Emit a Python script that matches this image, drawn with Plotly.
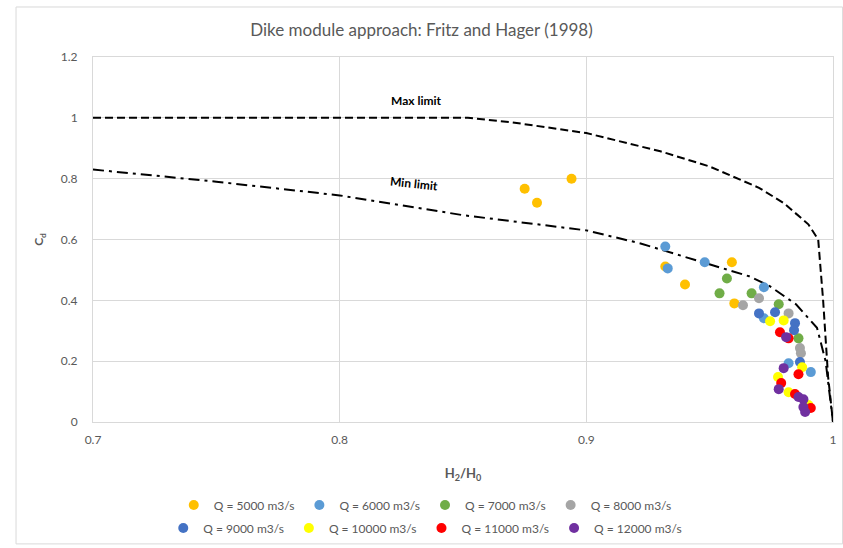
import plotly.graph_objects as go

# ---------------- data ----------------
series_names = ["Q = 5000 m3/s", "Q = 6000 m3/s", "Q = 7000 m3/s", "Q = 8000 m3/s",
                "Q = 9000 m3/s", "Q = 10000 m3/s", "Q = 11000 m3/s", "Q = 12000 m3/s"]
series_colors = ["#FFC000", "#5B9BD5", "#70AD47", "#A5A5A5",
                 "#4472C4", "#FFFF00", "#FF0000", "#7030A0"]

q5000_x = [0.875, 0.880, 0.894, 0.932, 0.940, 0.959, 0.960]
q5000_y = [0.767, 0.721, 0.800, 0.511, 0.452, 0.525, 0.390]
q6000_x = [0.932, 0.933, 0.948, 0.972, 0.972, 0.982, 0.991]
q6000_y = [0.577, 0.505, 0.525, 0.443, 0.341, 0.193, 0.164]
q7000_x = [0.957, 0.954, 0.967, 0.978, 0.986]
q7000_y = [0.472, 0.423, 0.423, 0.387, 0.275]
q8000_x = [0.9635, 0.970, 0.982, 0.9866, 0.987]
q8000_y = [0.384, 0.407, 0.357, 0.243, 0.226]
q9000_x = [0.970, 0.9765, 0.9846, 0.9842, 0.9866]
q9000_y = [0.357, 0.361, 0.325, 0.302, 0.197]
q10000_x = [0.9745, 0.980, 0.9875, 0.9777, 0.982, 0.990]
q10000_y = [0.331, 0.334, 0.180, 0.148, 0.098, 0.056]
q11000_x = [0.9785, 0.982, 0.986, 0.979, 0.9846, 0.991]
q11000_y = [0.295, 0.275, 0.157, 0.128, 0.092, 0.046]
q12000_x = [0.981, 0.980, 0.978, 0.986, 0.988, 0.988, 0.9887]
q12000_y = [0.279, 0.177, 0.108, 0.082, 0.075, 0.049, 0.033]

series_x = [q5000_x, q6000_x, q7000_x, q8000_x, q9000_x, q10000_x, q11000_x, q12000_x]
series_y = [q5000_y, q6000_y, q7000_y, q8000_y, q9000_y, q10000_y, q11000_y, q12000_y]

max_limit_x = [0.70, 0.852, 0.87, 0.90, 0.93, 0.95, 0.97, 0.98, 0.99, 0.994, 0.996, 0.998, 1.0]
max_limit_y = [1.00, 1.00, 0.985, 0.95, 0.89, 0.84, 0.77, 0.72, 0.65, 0.60, 0.40, 0.15, 0.0]
min_limit_x = [0.70, 0.75, 0.80, 0.85, 0.90, 0.922, 0.946, 0.966, 0.9745, 0.985, 0.9935, 0.997, 1.0]
min_limit_y = [0.83, 0.79, 0.745, 0.68, 0.63, 0.587, 0.528, 0.479, 0.446, 0.387, 0.31, 0.2, 0.0]

FONT = "Lato"
GRAY = "#595959"
GRID = "#D9D9D9"

fig = go.Figure()

fig.add_trace(go.Scatter(x=max_limit_x, y=max_limit_y, mode="lines", showlegend=False,
                         line=dict(color="black", width=2, dash="8px,4px"), hoverinfo="skip"))
fig.add_trace(go.Scatter(x=min_limit_x, y=min_limit_y, mode="lines", showlegend=False,
                         line=dict(color="black", width=2, dash="11px,5px,3px,5px"), hoverinfo="skip"))

for i, (name, color, xs, ys) in enumerate(zip(series_names, series_colors, series_x, series_y)):
    fig.add_trace(go.Scatter(x=xs, y=ys, mode="markers", name=name,
                             marker=dict(color=color, size=10),
                             legend="legend" if i < 4 else "legend2"))

fig.add_annotation(x=0.831, y=1.056, text="<b>Max limit</b>", showarrow=False,
                   font=dict(family=FONT, size=12, color="black"))
fig.add_annotation(x=0.830, y=0.784, text="<b>Min limit</b>", showarrow=False, textangle=6,
                   font=dict(family=FONT, size=12, color="black"))

# outer chart frame
fig.add_shape(type="rect", xref="paper", yref="paper",
              x0=-0.104, x1=1.013, y0=-0.334, y1=1.137,
              line=dict(color=GRID, width=1), fillcolor="rgba(0,0,0,0)", layer="below")

legend_common = dict(orientation="h", xanchor="center", x=0.449, yanchor="middle",
                     font=dict(family=FONT, size=12, color=GRAY), itemwidth=30,
                     bgcolor="rgba(0,0,0,0)", tracegroupgap=0)

fig.update_layout(
    width=843, height=548,
    margin=dict(l=93, r=10, t=57, b=126, autoexpand=False),
    paper_bgcolor="white", plot_bgcolor="white",
    font=dict(family=FONT, color=GRAY),
    title=dict(text="Dike module approach: Fritz and Hager (1998)", x=0.5, xanchor="center",
               y=1 - 30 / 548, yanchor="middle", yref="container",
               font=dict(family=FONT, size=17, color=GRAY)),
    xaxis=dict(range=[0.7, 1.0], dtick=0.1, tick0=0.7, showgrid=True, gridcolor=GRID,
               showline=True, linecolor=GRID, mirror=True, zeroline=False,
               tickfont=dict(family=FONT, size=12, color=GRAY), ticks="",
               ticklabelstandoff=7, automargin=False,
               title=dict(text="<b>H<sub>2</sub>/H<sub>0</sub></b>", standoff=22,
                          font=dict(family=FONT, size=13, color=GRAY))),
    yaxis=dict(range=[0, 1.2], dtick=0.2, showgrid=True, gridcolor=GRID,
               showline=True, linecolor=GRID, mirror=True, zeroline=False,
               tickfont=dict(family=FONT, size=12, color=GRAY), ticks="",
               ticklabelstandoff=12, automargin=False,
               title=dict(text="<b>C<sub>d</sub></b>", standoff=14,
                          font=dict(family=FONT, size=12, color=GRAY))),
    legend=dict(y=(422 - 505) / 365, **legend_common),
    legend2=dict(y=(422 - 528) / 365, **legend_common),
)

fig.write_html("out.html")
